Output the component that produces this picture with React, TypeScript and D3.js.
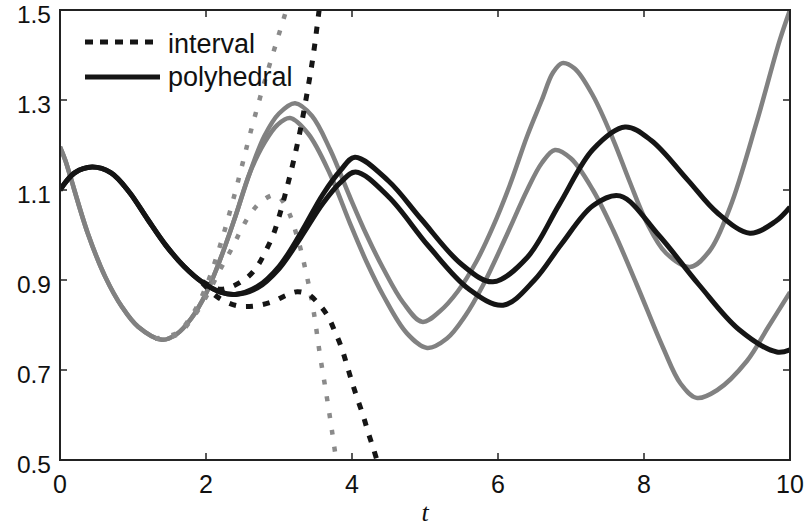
import React from "react";
import * as d3 from "d3";

const WIDTH = 806;
const HEIGHT = 529;
const PLOT = { left: 60, right: 790, top: 10, bottom: 460 };

const xTicks = [0, 2, 4, 6, 8, 10];
const yTicks = [0.5, 0.7, 0.9, 1.1, 1.3, 1.5];
const yTickLabels = ["0.5", "0.7", "0.9", "1.1", "1.3", "1.5"];
const legendLabels = ["interval", "polyhedral"];

// Sampled trajectories, [t, value]
const trueOuter: [number, number][] = [
  [0, 1.196], [0.07, 1.167], [0.38, 1.004], [0.62, 0.907], [0.85, 0.84], [1.07, 0.796],
  [1.4, 0.767], [1.6, 0.78], [1.8, 0.815], [2.0, 0.87], [2.2, 0.948], [2.4, 1.04],
  [2.6, 1.138], [2.8, 1.22], [3.0, 1.27], [3.22, 1.293], [3.45, 1.265], [3.7, 1.19],
  [3.97, 1.085], [4.2, 1.0], [4.43, 0.925], [4.7, 0.85], [4.96, 0.807], [5.2, 0.83],
  [5.45, 0.875], [5.7, 0.94], [5.93, 1.018], [6.16, 1.11], [6.4, 1.22], [6.6, 1.3],
  [6.75, 1.36], [6.88, 1.382], [7.05, 1.37], [7.3, 1.31], [7.58, 1.211], [7.8, 1.12],
  [8.04, 1.027], [8.3, 0.96], [8.63, 0.929], [8.9, 0.965], [9.18, 1.062], [9.54, 1.249],
  [9.86, 1.433], [10, 1.5],
];

const trueInner: [number, number][] = [
  [0, 1.196], [0.07, 1.167], [0.38, 1.004], [0.62, 0.907], [0.85, 0.84], [1.07, 0.796],
  [1.4, 0.767], [1.6, 0.78], [1.8, 0.815], [2.0, 0.87], [2.2, 0.948], [2.4, 1.04],
  [2.6, 1.138], [2.8, 1.205], [2.98, 1.245], [3.15, 1.26], [3.4, 1.225], [3.7, 1.135],
  [3.97, 1.027], [4.2, 0.94], [4.43, 0.865], [4.75, 0.782], [5.03, 0.749], [5.3, 0.77],
  [5.55, 0.82], [5.8, 0.89], [6.12, 1.0], [6.4, 1.1], [6.6, 1.16], [6.78, 1.189],
  [7.0, 1.17], [7.3, 1.1], [7.58, 1.01], [7.9, 0.89], [8.26, 0.75], [8.5, 0.67],
  [8.72, 0.638], [9.0, 0.655], [9.41, 0.72], [9.7, 0.795], [10, 0.873],
];

const polyUpper: [number, number][] = [
  [0, 1.1], [0.2, 1.138], [0.44, 1.151], [0.7, 1.138], [0.95, 1.095], [1.2, 1.035],
  [1.45, 0.977], [1.7, 0.93], [1.95, 0.895], [2.2, 0.873], [2.4, 0.868], [2.7, 0.885],
  [3.0, 0.93], [3.3, 1.005], [3.6, 1.09], [3.85, 1.145], [4.04, 1.173], [4.5, 1.12],
  [4.95, 1.035], [5.5, 0.935], [5.93, 0.896], [6.4, 0.95], [6.84, 1.068], [7.3, 1.19],
  [7.74, 1.24], [8.1, 1.21], [8.6, 1.122], [9.0, 1.05], [9.45, 1.004], [9.8, 1.03],
  [10, 1.062],
];

const polyLower: [number, number][] = [
  [0, 1.1], [0.2, 1.138], [0.44, 1.151], [0.7, 1.138], [0.95, 1.095], [1.2, 1.035],
  [1.45, 0.977], [1.7, 0.93], [1.95, 0.895], [2.2, 0.873], [2.4, 0.868], [2.7, 0.882],
  [3.0, 0.925], [3.3, 0.995], [3.6, 1.07], [3.85, 1.118], [4.05, 1.14], [4.5, 1.085],
  [5.05, 0.975], [5.6, 0.88], [6.07, 0.844], [6.5, 0.9], [6.87, 0.98], [7.3, 1.065],
  [7.67, 1.087], [8.2, 1.0], [8.75, 0.89], [9.3, 0.79], [9.82, 0.74], [10, 0.745],
];

const intervalGreyUpper: [number, number][] = [
  [1.3, 0.77], [1.6, 0.782], [1.8, 0.82], [2.0, 0.885], [2.19, 0.975], [2.29, 1.03],
  [2.4, 1.095], [2.49, 1.152], [2.6, 1.222], [2.81, 1.345], [3.04, 1.468], [3.1, 1.5], [3.15, 1.53],
];

const intervalGreyLower: [number, number][] = [
  [1.3, 0.77], [1.6, 0.778], [1.8, 0.812], [2.0, 0.862], [2.2, 0.925], [2.36, 0.972],
  [2.47, 1.008], [2.6, 1.045], [2.77, 1.076], [2.96, 1.089], [3.1, 1.062], [3.26, 0.99],
  [3.38, 0.91], [3.47, 0.835], [3.56, 0.735], [3.65, 0.645], [3.73, 0.56], [3.8, 0.48],
];

const intervalBlackUpper: [number, number][] = [
  [1.95, 0.897], [2.16, 0.88], [2.3, 0.882], [2.56, 0.905], [2.7, 0.93], [2.81, 0.962],
  [2.92, 1.0], [3.0, 1.04], [3.1, 1.1], [3.2, 1.165], [3.3, 1.24], [3.4, 1.33],
  [3.47, 1.4], [3.55, 1.5], [3.6, 1.56],
];

const intervalBlackLower: [number, number][] = [
  [1.95, 0.893], [2.16, 0.862], [2.42, 0.843], [2.65, 0.842], [2.9, 0.851], [3.1, 0.866],
  [3.25, 0.874], [3.4, 0.868], [3.52, 0.851], [3.66, 0.822], [3.77, 0.784], [3.86, 0.748],
  [3.93, 0.711], [4.0, 0.673], [4.07, 0.638], [4.15, 0.6], [4.22, 0.562], [4.29, 0.527],
  [4.36, 0.49],
];

const GREY = "#818181";
const GREY_DASH = "#8a8a8a";
const BLACK = "#151515";
const FONT = "'Liberation Sans', Arial, Helvetica, sans-serif";

export default function App() {
  const x = d3.scaleLinear().domain([0, 10]).range([PLOT.left, PLOT.right]);
  const y = d3.scaleLinear().domain([0.5, 1.5]).range([PLOT.bottom, PLOT.top]);
  const line = d3
    .line<[number, number]>()
    .x((d) => x(d[0]))
    .y((d) => y(d[1]))
    .curve(d3.curveCatmullRom.alpha(0.5));

  const tickLen = 7;

  return (
    <svg
      width={WIDTH}
      height={HEIGHT}
      style={{ position: "absolute", left: 0, top: 0, background: "#fff" }}
      fontFamily={FONT}
    >
      <defs>
        <clipPath id="plot-clip">
          <rect x={PLOT.left} y={PLOT.top} width={PLOT.right - PLOT.left} height={PLOT.bottom - PLOT.top} />
        </clipPath>
      </defs>
      <rect width={WIDTH} height={HEIGHT} fill="#fff" />

      <g clipPath="url(#plot-clip)" fill="none" strokeLinejoin="round">
        <path d={line(trueInner) || ""} stroke={GREY} strokeWidth={4.5} />
        <path d={line(trueOuter) || ""} stroke={GREY} strokeWidth={4.5} />
        <path d={line(intervalGreyUpper) || ""} stroke={GREY_DASH} strokeWidth={4.5} strokeDasharray="5 12" />
        <path d={line(intervalGreyLower) || ""} stroke={GREY_DASH} strokeWidth={4.5} strokeDasharray="5 12" />
        <path d={line(polyUpper) || ""} stroke={BLACK} strokeWidth={5} />
        <path d={line(polyLower) || ""} stroke={BLACK} strokeWidth={5} />
        <path d={line(intervalBlackUpper) || ""} stroke={BLACK} strokeWidth={5} strokeDasharray="7 10" />
        <path d={line(intervalBlackLower) || ""} stroke={BLACK} strokeWidth={5} strokeDasharray="7 10" />
      </g>

      {/* axes box */}
      <rect
        x={PLOT.left}
        y={PLOT.top}
        width={PLOT.right - PLOT.left}
        height={PLOT.bottom - PLOT.top}
        fill="none"
        stroke="#222"
        strokeWidth={2}
      />

      {xTicks.map((t) => (
        <g key={`xt${t}`} stroke="#222" strokeWidth={1.5}>
          <line x1={x(t)} x2={x(t)} y1={PLOT.bottom} y2={PLOT.bottom - tickLen} />
          <line x1={x(t)} x2={x(t)} y1={PLOT.top} y2={PLOT.top + tickLen} />
        </g>
      ))}
      {yTicks.map((v) => (
        <g key={`yt${v}`} stroke="#222" strokeWidth={1.5}>
          <line x1={PLOT.left} x2={PLOT.left + tickLen} y1={y(v)} y2={y(v)} />
          <line x1={PLOT.right} x2={PLOT.right - tickLen} y1={y(v)} y2={y(v)} />
        </g>
      ))}

      {xTicks.map((t) => (
        <text key={`xl${t}`} x={x(t)} y={493} textAnchor="middle" fontSize={25} fill="#111">
          {t}
        </text>
      ))}
      {yTicks.map((v, i) => (
        <text key={`yl${v}`} x={51} y={y(v) + 12.5} textAnchor="end" fontSize={24.5} fill="#111">
          {yTickLabels[i]}
        </text>
      ))}

      <text
        x={(PLOT.left + PLOT.right) / 2}
        y={521}
        textAnchor="middle"
        fontSize={26}
        fontStyle="italic"
        fontFamily="'Liberation Serif', 'Times New Roman', serif"
        fill="#111"
      >
        t
      </text>

      {/* legend */}
      <line x1={85} x2={160} y1={42} y2={42} stroke={BLACK} strokeWidth={5} strokeDasharray="8 7" />
      <text x={168} y={53} fontSize={27} fill="#111">
        {legendLabels[0]}
      </text>
      <line x1={85} x2={160} y1={77} y2={77} stroke={BLACK} strokeWidth={5} />
      <text x={168} y={86} fontSize={27} fill="#111">
        {legendLabels[1]}
      </text>
    </svg>
  );
}
